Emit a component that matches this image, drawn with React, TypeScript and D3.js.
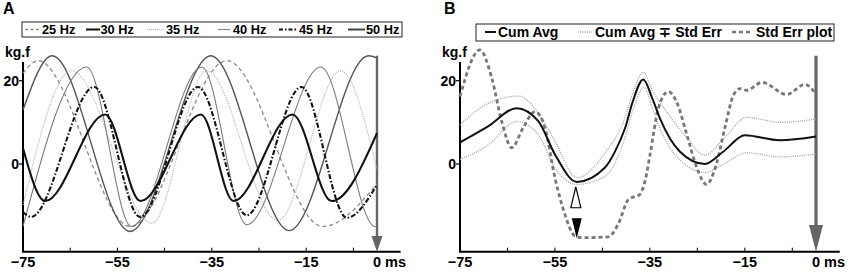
import React from "react";
import * as d3 from "d3";

type P = [number, number];

// ---------- Panel A data (time ms, force kg.f) ----------
const hz25: P[] = [[-75, 21.8], [-71.8, 24.8], [-52.2, -15], [-31.8, 24.8], [-11.5, -15], [0, -4.8]];
const hz30: P[] = [[-75, 13], [-68.8, 26], [-52.3, -16.2], [-35.2, 26], [-18.6, -16], [-1.8, 26], [0, 25.5]];
const hz35: P[] = [[-75, -9.8], [-64.7, 22.4], [-47.7, -14.2], [-36.1, 22.4], [-21, -13.5], [-7.7, 22.4], [0, -1.4]];
const hz40: P[] = [[-75, -15], [-61.5, 23.3], [-52, -15], [-37.1, 23.3], [-27.6, -14.6], [-11.9, 23.3], [-0.4, -15], [0, -15]];
const hz45: P[] = [[-75, -11.5], [-73.3, -12.7], [-59.9, 18.5], [-50.2, -12.7], [-37.9, 18.5], [-27.6, -12.3], [-16, 18.5], [-6.4, -12.9], [0, -5]];
const hz50: P[] = [[-75, 3.8], [-70.3, -8.9], [-57.6, 11.9], [-50.1, -8.9], [-37.3, 11.9], [-30.4, -8.9], [-17.9, 11.9], [-9.6, -8.9], [0, 7.4]];

const seriesA = [hz25, hz30, hz35, hz40, hz45, hz50];
const legendA = ["25 Hz", "30 Hz", "35 Hz", "40 Hz", "45 Hz", "50 Hz"];

// ---------- Panel B data ----------
const cumAvg: P[] = [[-75, 5.2], [-69, 9.1], [-63.1, 13.4], [-58.5, 10.3], [-55, 2.3], [-50.4, -4.3], [-44.5, -0.9], [-42.3, 3.1], [-40.2, 8.7], [-38.6, 15], [-36.4, 20.3], [-34.4, 15.5], [-32.9, 11], [-28.7, 3], [-23.4, 0], [-19.5, 3], [-15, 6.9], [-7.6, 5.7], [0, 6.6]];
const cumAvgUpper: P[] = [[-75, 9.4], [-69, 14.6], [-62.7, 16.3], [-57.8, 11], [-55, 5.5], [-50.4, -3.3], [-44.5, 2.6], [-40.2, 11.2], [-38.6, 17], [-36.4, 22], [-34.4, 17.5], [-31.5, 12.6], [-27, 6], [-23.4, 2.1], [-19.5, 6], [-14.6, 11.2], [-7.6, 10], [0, 10.8]];
const cumAvgLower: P[] = [[-75, 1.1], [-69, 4.6], [-63.1, 10.2], [-58.5, 7], [-55, -1], [-50.4, -4.9], [-44.5, -3], [-40.2, 6.5], [-38.6, 12.8], [-36.2, 18.4], [-34.4, 13.2], [-32.9, 8.6], [-28.7, 1], [-23.4, -2], [-19.5, -0.1], [-14.6, 2.7], [-7.6, 1.7], [0, 2.4]];
const stdErrPlot: P[] = [[-75, 16.2], [-70.8, 27.4], [-68.3, 20.6], [-66.2, 10.2], [-64.1, 3.9], [-61.7, 8.7], [-59.2, 12.6], [-57.1, 8.7], [-55, -3.3], [-52.9, -12.1], [-50.8, -17.3], [-49.4, -17.7], [-43.8, -17.5], [-41.7, -14.5], [-39.5, -8.5], [-37.1, -7.3], [-36, -4], [-35, 2], [-33.2, 13.4], [-31.1, 17.4], [-29.4, 15], [-27.2, 7], [-25.1, -0.9], [-23.1, -4.9], [-21, -0.1], [-19.2, 8.7], [-17.4, 16.5], [-16, 18.1], [-14.6, 17.7], [-11.4, 19.6], [-6.2, 16.7], [-2.3, 19.1], [0, 16.7]];
const legendB = ["Cum Avg", "Cum Avg \u2213 Std Err", "Std Err plot"];

// markers (time, apex value, base value)
const openMarker: [number, number, number] = [-50.6, -5.5, -10.5];
const filledMarker: [number, number, number] = [-50.4, -17.8, -13];

// ---------- axes ----------
const xTicks = [-75, -65, -55, -45, -35, -25, -15, -5];
const xLabels = [-75, -55, -35, -15, 0];
const yTicks = [0, 20];

const FONT = "'Liberation Sans', Arial, Helvetica, sans-serif";

type Style = { stroke: string; width: number; dash?: string };
const stylesA: Style[] = [
  { stroke: "#8a8a8a", width: 1.3, dash: "4,3" },
  { stroke: "#555", width: 1.4 },
  { stroke: "#b0b0b0", width: 1.2, dash: "1,1.2" },
  { stroke: "#7a7a7a", width: 1.1 },
  { stroke: "#111", width: 2.1, dash: "5,2,1.5,2" },
  { stroke: "#111", width: 2.1 },
];
const legendStylesA: Style[] = [
  { stroke: "#8a8a8a", width: 1.3, dash: "3,2.5" },
  { stroke: "#111", width: 2 },
  { stroke: "#b0b0b0", width: 1.2, dash: "1,1" },
  { stroke: "#888", width: 1.2 },
  { stroke: "#111", width: 2, dash: "4,2,1.5,2" },
  { stroke: "#444", width: 2 },
];
const stylesB: Style[] = [
  { stroke: "#111", width: 2 },
  { stroke: "#a0a0a0", width: 1.3, dash: "1,1.2" },
  { stroke: "#777", width: 2.8, dash: "4,3" },
];

const yScale = d3.scaleLinear().domain([0, 20]).range([164, 80.7]);
const yAxisTopV = 24.5;
const yAxisBottomV = -21.05;
const arrowTopV = 26;

const lineGen = (xs: d3.ScaleLinear<number, number>) =>
  d3
    .line<P>()
    .x((d) => xs(d[0]))
    .y((d) => yScale(d[1]))
    .curve(d3.curveMonotoneX);

function Axes({ xs, xEndV, arrowHeadTop, arrowW, arrowStroke }: { xs: d3.ScaleLinear<number, number>; xEndV: number; arrowHeadTop: number; arrowW: number; arrowStroke: number }) {
  const x0 = xs(-75);
  const yb = yScale(yAxisBottomV);
  const yt = yScale(yAxisTopV);
  const xz = xs(0);
  return (
    <g>
      {/* gray arrow at 0 ms */}
      <line x1={xz} x2={xz} y1={yScale(arrowTopV)} y2={arrowHeadTop + 2} stroke="#666" strokeWidth={arrowStroke} />
      <polygon points={`${xz - arrowW / 2},${arrowHeadTop} ${xz + arrowW / 2},${arrowHeadTop} ${xz},${yb}`} fill="#666" />
      <path d={`M${x0},${yt}V${yb}H${xs(xEndV)}`} fill="none" stroke="#000" strokeWidth={2} />
      {xTicks.map((t) => (
        <line key={t} x1={xs(t)} x2={xs(t)} y1={yb} y2={yb - 4} stroke="#000" strokeWidth={1} />
      ))}
      {yTicks.map((v) => (
        <g key={v}>
          <line x1={x0 - 4} x2={x0} y1={yScale(v)} y2={yScale(v)} stroke="#000" strokeWidth={1.2} />
          <text x={x0 - 4} y={yScale(v)} dy="0.36em" textAnchor="end" fontSize={14} fontWeight="bold" fontFamily={FONT}>
            {v}
          </text>
        </g>
      ))}
      {xLabels.map((t) =>
        t === 0 ? (
          <text key={t} x={xs(t) - 4} y={267} fontSize={14.5} fontWeight="bold" fontFamily={FONT}>
            0 ms
          </text>
        ) : (
          <text key={t} x={xs(t)} y={267} textAnchor="middle" fontSize={14.5} fontWeight="bold" fontFamily={FONT}>
            {"\u2212" + Math.abs(t)}
          </text>
        )
      )}
      <text x={x0 - 18} y={57} fontSize={14} fontWeight="bold" fontFamily={FONT}>
        kg.f
      </text>
    </g>
  );
}

export default function App() {
  const xA = d3.scaleLinear().domain([-75, 0]).range([23, 377]);
  const xB = d3.scaleLinear().domain([-75, 0]).range([460, 816]);
  const lA = lineGen(xA);
  const lB = lineGen(xB);

  // legend A layout
  const legA = [
    { sx: 25, ex: 40, tx: 42 },
    { sx: 86, ex: 100, tx: 100.5 },
    { sx: 147, ex: 164, tx: 166 },
    { sx: 218, ex: 230, tx: 233 },
    { sx: 279, ex: 297, tx: 299 },
    { sx: 348, ex: 365, tx: 366 },
  ];
  const legB = [
    { sx: 485, ex: 496, tx: 498 },
    { sx: 578, ex: 592, tx: 595 },
    { sx: 732, ex: 753, tx: 756 },
  ];
  const seriesB = [cumAvg, cumAvgUpper, cumAvgLower, stdErrPlot];
  const seriesBStyle = [stylesB[0], stylesB[1], stylesB[1], stylesB[2]];
  const drawOrderB = [1, 2, 3, 0];

  const mk = (m: [number, number, number]) => {
    const x = xB(m[0]);
    const ya = yScale(m[1]);
    const yb = yScale(m[2]);
    return `${x - 5},${yb} ${x + 5},${yb} ${x},${ya}`;
  };

  return (
    <svg width={850} height={273} style={{ position: "absolute", left: 0, top: 0, background: "#fff" }}>
      {/* Panel labels */}
      <text x={3} y={14} fontSize={16} fontWeight="bold" fontFamily={FONT}>A</text>
      <text x={444} y={14} fontSize={16} fontWeight="bold" fontFamily={FONT}>B</text>

      {/* Legend A */}
      <rect x={22} y={22} width={380} height={15} fill="#fff" stroke="#222" strokeWidth={1} />
      {legendA.map((name, i) => (
        <g key={name}>
          <line x1={legA[i].sx} x2={legA[i].ex} y1={29.5} y2={29.5} stroke={legendStylesA[i].stroke} strokeWidth={legendStylesA[i].width} strokeDasharray={legendStylesA[i].dash} />
          <text x={legA[i].tx} y={34} fontSize={12.8} fontWeight="bold" fontFamily={FONT}>{name}</text>
        </g>
      ))}

      {/* Legend B */}
      <rect x={476} y={24} width={358} height={17} fill="#fff" stroke="#222" strokeWidth={1} />
      {legendB.map((name, i) => (
        <g key={name}>
          <line x1={legB[i].sx} x2={legB[i].ex} y1={32} y2={32} stroke={stylesB[i].stroke} strokeWidth={i === 2 ? 2.4 : stylesB[i].width} strokeDasharray={stylesB[i].dash} />
          <text x={legB[i].tx} y={36.5} fontSize={14} fontWeight="bold" fontFamily={FONT}>{name}</text>
        </g>
      ))}

      <Axes xs={xA} xEndV={5} arrowHeadTop={236} arrowW={11} arrowStroke={2.4} />
      <Axes xs={xB} xEndV={5} arrowHeadTop={225} arrowW={14} arrowStroke={3.2} />

      {/* Panel A curves */}
      {seriesA.map((s, i) => (
        <path key={i} d={lA(s) || ""} fill="none" stroke={stylesA[i].stroke} strokeWidth={stylesA[i].width} strokeDasharray={stylesA[i].dash} />
      ))}

      {/* Panel B curves */}
      {drawOrderB.map((i) => (
        <path key={i} d={lB(seriesB[i]) || ""} fill="none" stroke={seriesBStyle[i].stroke} strokeWidth={seriesBStyle[i].width} strokeDasharray={seriesBStyle[i].dash} />
      ))}

      <polygon points={mk(openMarker)} fill="#fff" stroke="#000" strokeWidth={1.2} />
      <polygon points={mk(filledMarker)} fill="#000" />
    </svg>
  );
}
